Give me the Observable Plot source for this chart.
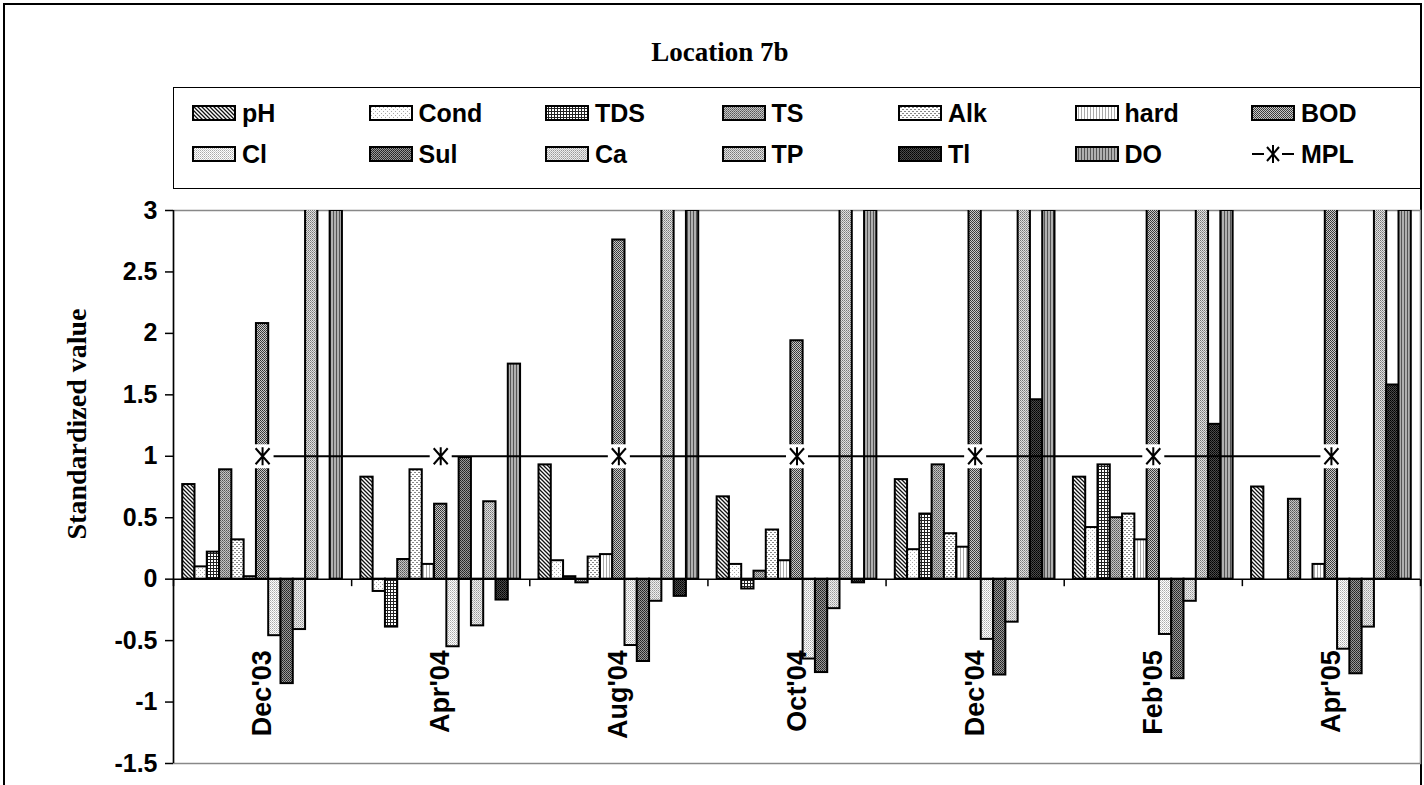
<!DOCTYPE html>
<html><head><meta charset="utf-8">
<script src="https://cdn.jsdelivr.net/npm/d3@7"></script>
<script src="https://cdn.jsdelivr.net/npm/@observablehq/plot@0.6"></script>
<style>
body{margin:0;background:#fff;}
#wrap{position:relative;width:1424px;height:785px;overflow:hidden;font-family:"Liberation Sans",Arial,sans-serif;background:#fff;}
#border{position:absolute;left:3px;top:3px;width:1415px;height:820px;border:2px solid #000;}
#title{position:absolute;left:8px;width:1424px;top:37px;text-align:center;font:bold 27px "Liberation Serif","Times New Roman",serif;}
#legend{position:absolute;left:173px;top:87px;width:1248px;height:102px;border:1.5px solid #000;box-sizing:border-box;background:#fff}
.item{position:absolute;height:30px;display:flex;align-items:center;font-weight:bold;font-size:25px;white-space:nowrap;}
.item svg{margin-right:6px;}
#plot{position:absolute;left:0;top:190px;}
</style></head>
<body>
<svg width="0" height="0" style="position:absolute"><defs id="pats"></defs></svg>
<div id="wrap"><div id="border"></div><div id="title">Location 7b</div><div id="legend"></div><div id="plot"></div></div>
<script>
// ---- data ----
const dates = ["Dec'03", "Apr'04", "Aug'04", "Oct'04", "Dec'04", "Feb'05", "Apr'05"];
const params = ["pH", "Cond", "TDS", "TS", "Alk", "hard", "BOD", "Cl", "Sul", "Ca", "TP", "Tl", "DO"];
const pH   = [0.77, 0.83, 0.93, 0.67, 0.81, 0.83, 0.75];
const Cond = [0.10, -0.10, 0.15, 0.12, 0.24, 0.42, null];
const TDS  = [0.22, -0.39, 0.02, -0.08, 0.53, 0.93, null];
const TS   = [0.89, 0.16, -0.03, 0.065, 0.93, 0.50, 0.65];
const Alk  = [0.32, 0.89, 0.18, 0.40, 0.37, 0.53, null];
const hard = [0.02, 0.12, 0.20, 0.15, 0.26, 0.32, 0.12];
const BOD  = [2.08, 0.61, 2.76, 1.94, 3.5, 3.5, 3.5];   // >3 are off-scale (estimated)
const Cl   = [-0.46, -0.55, -0.54, -0.65, -0.49, -0.45, -0.57];
const Sul  = [-0.85, 0.99, -0.67, -0.76, -0.78, -0.81, -0.77];
const Ca   = [-0.41, -0.38, -0.18, -0.24, -0.35, -0.18, -0.39];
const TP   = [3.5, 0.63, 3.5, 3.5, 3.5, 3.5, 3.5];      // >3 are off-scale (estimated)
const Tl   = [null, -0.17, -0.14, -0.03, 1.46, 1.26, 1.58];
const DO   = [3.0, 1.75, 3.0, 3.0, 3.0, 3.0, 3.0];
const MPL  = [1, 1, 1, 1, 1, 1, 1];
const yTicks = [-1.5, -1, -0.5, 0, 0.5, 1, 1.5, 2, 2.5, 3];
const series = [pH, Cond, TDS, TS, Alk, hard, BOD, Cl, Sul, Ca, TP, Tl, DO];

// ---- layout (category slots: 13 bars + 1.5 bar gap per date) ----
const gap = 1.5;
const span = params.length + gap;
const slot = (g, i) => g * span + gap / 2 + i;

// ---- patterns ----
const pat = {
  pH:   [4, '<rect width="4" height="4" fill="#fff"/><path d="M-1,-1L5,5M-1,3L1,5M3,-1L5,1" stroke="#111" stroke-width="1.3"/>'],
  Cond: [4, '<rect width="4" height="4" fill="#fff"/><rect width="1" height="1" fill="#aaa"/><rect x="2" y="2" width="1" height="1" fill="#aaa"/>'],
  TDS:  [3, '<rect width="3" height="3" fill="#fff"/><rect width="3" height="1" fill="#222"/><rect width="1" height="3" fill="#222"/>'],
  TS:   [2, '<rect width="2" height="2" fill="#c4c4c4"/><rect width="1" height="1" fill="#555"/><rect x="1" y="1" width="1" height="1" fill="#777"/>'],
  Alk:  [4, '<rect width="4" height="4" fill="#fff"/><rect width="2" height="1" fill="#888"/><rect x="2" y="2" width="2" height="1" fill="#888"/>'],
  hard: [3, '<rect width="3" height="3" fill="#fff"/><rect width="1" height="3" fill="#aaa"/>'],
  BOD:  [2, '<rect width="2" height="2" fill="#c8c8c8"/><rect width="1" height="1" fill="#333"/><rect x="1" y="1" width="1" height="1" fill="#444"/>'],
  Cl:   [2, '<rect width="2" height="2" fill="#fff"/><rect width="1" height="1" fill="#aaa"/><rect x="1" y="1" width="1" height="1" fill="#ccc"/>'],
  Sul:  [2, '<rect width="2" height="2" fill="#999"/><rect width="1" height="1" fill="#222"/><rect x="1" y="1" width="1" height="1" fill="#333"/>'],
  Ca:   [2, '<rect width="2" height="2" fill="#eee"/><rect width="1" height="1" fill="#999"/><rect x="1" y="1" width="1" height="1" fill="#bbb"/>'],
  TP:   [2, '<rect width="2" height="2" fill="#e0e0e0"/><rect width="1" height="1" fill="#777"/><rect x="1" y="1" width="1" height="1" fill="#999"/>'],
  Tl:   [2, '<rect width="2" height="2" fill="#4a4a4a"/><rect width="1" height="1" fill="#000"/><rect x="1" y="1" width="1" height="1" fill="#111"/>'],
  DO:   [3, '<rect width="3" height="3" fill="#b0b0b0"/><rect width="1" height="3" fill="#555"/>']
};
document.getElementById("pats").innerHTML = params.map(p =>
  `<pattern id="p-${p}" patternUnits="userSpaceOnUse" width="${pat[p][0]}" height="${pat[p][0]}">${pat[p][1]}</pattern>`).join("");

// ---- table ----
const bars = [];
params.forEach((p, i) => series[i].forEach((v, g) => {
  if (v != null) bars.push({date: dates[g], param: p, value: v, x1: slot(g, i), x2: slot(g, i) + 1});
}));
const mplRows = MPL.map((v, g) => ({date: dates[g], value: v, x: slot(g, params.indexOf("BOD")) + 0.5}));
const bounds = d3.range(dates.length + 1).map(g => g * span);

const tickDown = {draw(c) { c.moveTo(0, 0); c.lineTo(0, 7); }};
const whiteBox = {draw(c) { c.rect(-11, -12, 22, 24); }};
const asterisk = {draw(c) {
  c.moveTo(-7, -8); c.lineTo(7, 8);
  c.moveTo(7, -8); c.lineTo(-7, 8);
  c.moveTo(0, -9); c.lineTo(0, 9);
}};

const chart = Plot.plot({
  width: 1424, height: 595,
  marginLeft: 173, marginRight: 4, marginTop: 20, marginBottom: 22,
  style: {fontFamily: "'Liberation Sans', Arial, sans-serif", fontSize: "25px", fontWeight: "bold", color: "#000", background: "transparent"},
  x: {domain: [0, dates.length * span], axis: null},
  y: {domain: [-1.5, 3], axis: null},
  marks: [
    Plot.frame({stroke: "#888", strokeWidth: 1.5}),
    Plot.rectY(bars, {x1: "x1", x2: "x2", y1: () => 0, y2: "value", fill: d => `url(#p-${d.param})`, stroke: "#000", strokeWidth: 2, clip: true}),
    Plot.ruleY([0], {stroke: "#000", strokeWidth: 1.5}),
    Plot.dot(bounds, {x: d => d, y: () => 0, symbol: tickDown, fill: "none", stroke: "#000", strokeWidth: 1.5}),
    Plot.ruleX([0], {stroke: "#000", strokeWidth: 1.5}),
    Plot.axisY(yTicks, {tickSize: 8, tickPadding: 8, tickFormat: d => String(d), stroke: "#000", strokeWidth: 1.5, fontSize: 25, fontWeight: "bold", label: null}),
    Plot.line(mplRows, {x: "x", y: "value", stroke: "#000", strokeWidth: 2}),
    Plot.dot(mplRows, {x: "x", y: "value", symbol: whiteBox, fill: "#fff", stroke: "none"}),
    Plot.dot(mplRows, {x: "x", y: "value", symbol: asterisk, fill: "none", stroke: "#000", strokeWidth: 2}),
    Plot.text(dates, {x: (d, i) => slot(i, 0) + params.length / 2, y: () => 0, text: d => d, rotate: -90, textAnchor: "end", dy: 71, fontSize: 27, fontWeight: "bold"}),
    Plot.text(["Standardized value"], {frameAnchor: "left", textAnchor: "middle", rotate: -90, dx: -96, dy: -63, fontFamily: "'Liberation Serif', 'Times New Roman', serif", fontSize: 28, fontWeight: "bold"})
  ]
});
document.getElementById("plot").appendChild(chart);

// ---- legend ----
const legend = document.getElementById("legend");
const legendItems = params.concat(["MPL"]);
legendItems.forEach((p, k) => {
  const c = k % 7, r = Math.floor(k / 7);
  const el = document.createElement("div");
  el.className = "item";
  el.style.left = (18 + c * 176.5) + "px";
  el.style.top = (10 + r * 41) + "px";
  const sw = p === "MPL"
    ? `<svg width="44" height="22"><line x1="1" x2="43" y1="11" y2="11" stroke="#000" stroke-width="2"/><rect x="13" y="0" width="18" height="22" fill="#fff"/><path d="M16,4L28,18M28,4L16,18M22,2L22,20" stroke="#000" stroke-width="2"/></svg>`
    : `<svg width="44" height="16"><rect x="1" y="1" width="42" height="14" fill="url(#p-${p})" stroke="#000" stroke-width="2"/></svg>`;
  el.innerHTML = sw + `<span>${p}</span>`;
  legend.appendChild(el);
});
</script>
</body></html>
